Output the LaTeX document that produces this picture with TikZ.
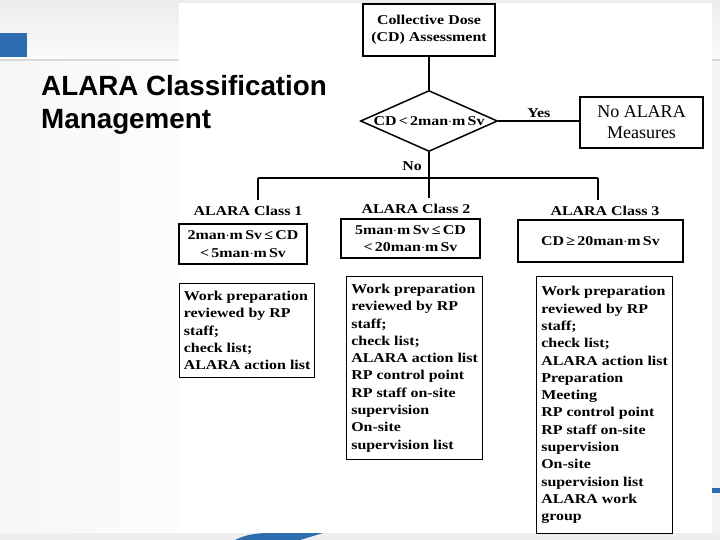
\documentclass[tikz,border=0pt]{standalone}
\usepackage{fontspec}
\setmainfont{Liberation Serif}
\newfontfamily\titlefont{Liberation Sans}
\newfontfamily\boxfont[FakeStretch=1.18]{Liberation Serif}
\usetikzlibrary{shapes.geometric}
\definecolor{slideblue}{HTML}{2E6CB0}
\tikzset{
  bf/.style={font=\boxfont\bfseries\fontsize{13.5}{17.3}\selectfont},
  box/.style={draw, line width=1.2pt, fill=white, inner sep=0pt, align=center, bf},
  listbox/.style={draw, line width=1.2pt, fill=white, inner xsep=4pt, inner ysep=0pt,
    anchor=north west, align=left, bf},
  lbl/.style={bf, inner sep=0pt},
  conn/.style={line width=1.1pt},
  trunk/.style={line width=1.8pt},
  titletext/.style={font=\titlefont\bfseries\fontsize{27.8}{33}\selectfont, anchor=base west, inner sep=0pt}
}
\begin{document}
\begin{tikzpicture}[x=1pt,y=-1pt]
\useasboundingbox (0,0) rectangle (720,540);
% slide background
\fill[gray!9] (0,0) rectangle (720,540);
\shade[top color=gray!15, bottom color=gray!3] (0,0) rectangle (720,60);
\shade[left color=gray!7, right color=gray!2] (0,61) rectangle (180,533);
\draw[gray!30, line width=1.5pt] (0,60) -- (720,60);
\fill[gray!13] (0,533) rectangle (720,540);
\fill[slideblue] (0,33) rectangle (27,57);
\fill[slideblue] (235,540) .. controls (245,535) and (255,533) .. (270,533) -- (323,533) -- (300,540) -- cycle;
\fill[slideblue] (712,488) rectangle (720,493);
\fill[white] (179,3) rectangle (712,533);
% title
\node[titletext] (t1) at (41,96) {ALARA Classification};
\node[titletext] (t2) at (41,129) {Management};
% flowchart
\node[box, minimum width=132pt, minimum height=52pt] (cd) at (429,30) {Collective Dose\\(CD) Assessment};
\node[diamond, draw, line width=1.5pt, minimum width=137pt, minimum height=61pt, inner sep=0pt] (dec) at (429,121) {};
\node[lbl] (dect) at (dec) {CD\,<\,2man$\cdot$m\,Sv};
\node[draw, line width=1.2pt, fill=white, minimum width=123pt, minimum height=51pt, inner sep=0pt, align=center,
  font=\fontsize{18}{21}\selectfont] (noal) at (641.5,122.5) {No ALARA\\Measures};
\draw[conn] (cd.south) -- (dec.north);
\draw[conn] (dec.east) -- (dec.east -| noal.west) node[midway, above=3pt, lbl] (yes) {Yes};
% No branch
\coordinate (jl) at (258,178);
\coordinate (jr) at (598,178);
\coordinate (d1) at (258,200);
\coordinate (d2) at (429,198);
\coordinate (d3) at (598,200);
\draw[trunk] (dec.south) -- (d2);
\node[lbl, anchor=east] (no) at (422,166) {No};
\draw[trunk] (jl) -- (jr);
\draw[conn] (jl) -- (d1);
\draw[conn] (jr) -- (d3);
% classes
\node[lbl] (c1) at (248,211) {ALARA Class 1};
\node[lbl] (c2) at (416,209) {ALARA Class 2};
\node[lbl] (c3) at (605,211) {ALARA Class 3};
\node[box, minimum width=128pt, minimum height=40pt] (r1) at (243,244) {2man$\cdot$m\,Sv\,≤\,CD\\<\,5man$\cdot$m\,Sv};
\node[box, minimum width=139pt, minimum height=39pt] (r2) at (410.5,238.5) {5man$\cdot$m\,Sv\,≤\,CD\\<\,20man$\cdot$m\,Sv};
\node[box, minimum width=165pt, minimum height=42pt] (r3) at (600.5,241) {CD\,≥\,20man$\cdot$m\,Sv};
% measures
\node[listbox, minimum width=135pt, minimum height=94pt] (m1) at (179,283)
  {Work preparation\\reviewed by RP\\staff;\\check list;\\ALARA action list};
\node[listbox, minimum width=136pt, minimum height=183pt] (m2) at (346,276)
  {Work preparation\\reviewed by RP\\staff;\\check list;\\ALARA action list\\RP control point\\RP staff on-site\\supervision\\On-site\\supervision list};
\node[listbox, minimum width=136pt, minimum height=257pt] (m3) at (536,276)
  {Work preparation\\reviewed by RP\\staff;\\check list;\\ALARA action list\\Preparation\\Meeting\\RP control point\\RP staff on-site\\supervision\\On-site\\supervision list\\ALARA work\\group};
\end{tikzpicture}
\end{document}
